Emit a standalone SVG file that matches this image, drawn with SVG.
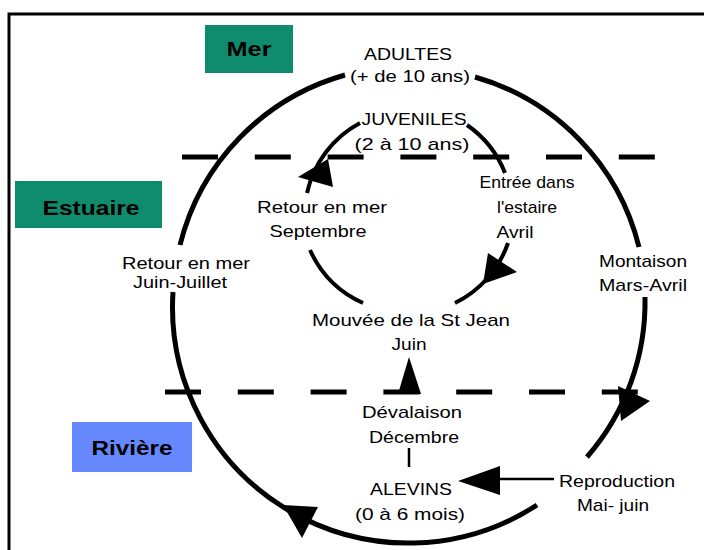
<svg xmlns="http://www.w3.org/2000/svg" width="704" height="550" viewBox="0 0 704 550">
<style>
.t{font-family:"Liberation Sans",Arial,sans-serif;font-size:17px;fill:#000;text-anchor:middle}
.r{font-family:"Liberation Sans",Arial,sans-serif;font-size:21px;font-weight:bold;fill:#000;text-anchor:middle}
.arc{fill:none;stroke:#000;stroke-width:5}
.iarc{fill:none;stroke:#000;stroke-width:4}
.dash{stroke:#000;stroke-width:5;stroke-dasharray:36 36.8}
.thin{stroke:#000;stroke-width:2.5}
.ah{fill:#000}
.green{fill:#0f8c6e}
.blue{fill:#6688ff}
</style>
<rect x="0" y="0" width="704" height="550" fill="#fff"/>
<rect x="9" y="14" width="800" height="600" fill="none" stroke="#000" stroke-width="3"/>

<g id="zones">
  <g id="zone-mer"><rect class="green" x="205" y="25" width="88" height="48"/><text class="r" x="249" y="56" textLength="45" lengthAdjust="spacingAndGlyphs">Mer</text></g>
  <g id="zone-estuaire"><rect class="green" x="15" y="181" width="147" height="47"/><text class="r" x="91" y="215" textLength="97" lengthAdjust="spacingAndGlyphs">Estuaire</text></g>
  <g id="zone-riviere"><rect class="blue" x="72" y="422" width="120" height="50"/><text class="r" x="132" y="455" textLength="81" lengthAdjust="spacingAndGlyphs">Rivière</text></g>
</g>

<g id="connectors">
  <line class="dash" x1="182" y1="157" x2="655" y2="157"/>
  <line class="dash" x1="165" y1="392" x2="638" y2="392"/>
  <path class="arc" d="M345,75 A236,236 0 0 0 180,245"/>
  <path class="arc" d="M173,292 A236,236 0 0 0 537,505"/>
  <path class="arc" d="M475,77 A236,236 0 0 1 639,247"/>
  <path class="arc" d="M645,297 A236,236 0 0 1 587,457"/>
  <polygon class="ah" points="283,505 318,507 302,538"/>
  <polygon class="ah" points="618,386 650,401 621,421"/>
  <path class="iarc" d="M360,123 A105,105 0 0 0 307,193"/>
  <path class="iarc" d="M467,125 A105,105 0 0 1 505,173"/>
  <path class="iarc" d="M508,243 A105,105 0 0 1 455,303"/>
  <path class="iarc" d="M310,250 A105,105 0 0 0 363,303"/>
  <polygon class="ah" points="298,177 328,159 333,187"/>
  <polygon class="ah" points="488,253 517,272 483,284"/>
  <polygon class="ah" points="409,357 398,394 421,394"/>
  <line class="thin" x1="409" y1="448" x2="409" y2="467"/>
  <line class="thin" x1="498" y1="479" x2="554" y2="479"/>
  <polygon class="ah" points="458,481 500,466 500,495"/>
</g>

<g id="node-adultes"><text class="t" x="408" y="60" textLength="88" lengthAdjust="spacingAndGlyphs">ADULTES</text><text class="t" x="410" y="82" textLength="120" lengthAdjust="spacingAndGlyphs">(+ de 10 ans)</text></g>
<g id="node-juveniles"><text class="t" x="414" y="125" textLength="105" lengthAdjust="spacingAndGlyphs">JUVENILES</text><text class="t" x="412" y="150" textLength="115" lengthAdjust="spacingAndGlyphs">(2 à 10 ans)</text></g>
<g id="node-retour-sept"><text class="t" x="322" y="213" textLength="130" lengthAdjust="spacingAndGlyphs">Retour en mer</text><text class="t" x="318" y="237" textLength="97" lengthAdjust="spacingAndGlyphs">Septembre</text></g>
<g id="node-entree"><text class="t" x="527" y="188" textLength="95" lengthAdjust="spacingAndGlyphs">Entrée dans</text><text class="t" x="527" y="213" textLength="60" lengthAdjust="spacingAndGlyphs">l'estaire</text><text class="t" x="515" y="238" textLength="37" lengthAdjust="spacingAndGlyphs">Avril</text></g>
<g id="node-retour-juin"><text class="t" x="186" y="269" textLength="128" lengthAdjust="spacingAndGlyphs">Retour en mer</text><text class="t" x="180" y="288" textLength="94" lengthAdjust="spacingAndGlyphs">Juin-Juillet</text></g>
<g id="node-montaison"><text class="t" x="643" y="267" textLength="88" lengthAdjust="spacingAndGlyphs">Montaison</text><text class="t" x="643" y="291" textLength="88" lengthAdjust="spacingAndGlyphs">Mars-Avril</text></g>
<g id="node-mouvee"><text class="t" x="411" y="326" textLength="198" lengthAdjust="spacingAndGlyphs">Mouvée de la St Jean</text><text class="t" x="409" y="350" textLength="35" lengthAdjust="spacingAndGlyphs">Juin</text></g>
<g id="node-devalaison"><text class="t" x="412" y="418" textLength="100" lengthAdjust="spacingAndGlyphs">Dévalaison</text><text class="t" x="414" y="443" textLength="90" lengthAdjust="spacingAndGlyphs">Décembre</text></g>
<g id="node-alevins"><text class="t" x="411" y="495" textLength="82" lengthAdjust="spacingAndGlyphs">ALEVINS</text><text class="t" x="410" y="520" textLength="110" lengthAdjust="spacingAndGlyphs">(0 à 6 mois)</text></g>
<g id="node-reproduction"><text class="t" x="617" y="487" textLength="116" lengthAdjust="spacingAndGlyphs">Reproduction</text><text class="t" x="613" y="511" textLength="72" lengthAdjust="spacingAndGlyphs">Mai- juin</text></g>
</svg>
